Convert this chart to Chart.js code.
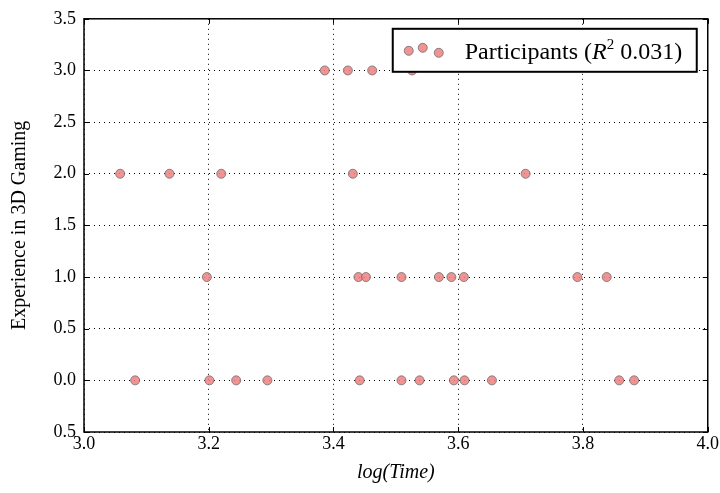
<!DOCTYPE html>
<html>
<head>
<meta charset="utf-8">
<script src="https://cdn.jsdelivr.net/npm/chart.js@4"></script>
<style>
  html, body { margin: 0; padding: 0; background: #fff; }
  #wrap { position: relative; width: 720px; height: 493px; }
</style>
</head>
<body>
<div id="wrap"><canvas id="scatterChart" width="720" height="493"></canvas></div>
<script>
// values
const logTime = [
    3.386, 3.423, 3.462, 3.526,
    3.058, 3.137, 3.220, 3.431, 3.708,
    3.197, 3.440, 3.452, 3.509, 3.569, 3.589, 3.609, 3.791, 3.838,
    3.082, 3.201, 3.244, 3.294, 3.442, 3.509, 3.538, 3.593, 3.610, 3.654, 3.858, 3.882
];
const experience = [
    3, 3, 3, 3,
    2, 2, 2, 2, 2,
    1, 1, 1, 1, 1, 1, 1, 1, 1,
    0, 0, 0, 0, 0, 0, 0, 0, 0, 0, 0, 0
];
const xTicks = [3.0, 3.2, 3.4, 3.6, 3.8, 4.0];
const yTicks = [-0.5, 0.0, 0.5, 1.0, 1.5, 2.0, 2.5, 3.0, 3.5];
// the reference prints the bottom tick without its minus sign
const yTickLabels = ['0.5', '0.0', '0.5', '1.0', '1.5', '2.0', '2.5', '3.0', '3.5'];
const seriesLabel = 'Participants';
const r2Value = '0.031';

const serif = '"Liberation Serif", "DejaVu Serif", serif';
const fillCol = 'rgba(240, 128, 128, 0.85)';
const edgeCol = 'rgba(110, 110, 110, 0.8)';

const points = logTime.map((x, i) => ({ x: x, y: experience[i] }));

// frame, inward ticks and the legend box
const framePlugin = {
    id: 'frame',
    afterDatasetsDraw(chart) {
        const { ctx, chartArea: a, scales } = chart;
        ctx.save();
        ctx.strokeStyle = '#000';
        ctx.lineWidth = 1;
        ctx.setLineDash([]);
        ctx.beginPath();
        xTicks.forEach(v => {
            const px = Math.round(scales.x.getPixelForValue(v)) + 0.5;
            ctx.moveTo(px, a.bottom); ctx.lineTo(px, a.bottom - 5);
            ctx.moveTo(px, a.top); ctx.lineTo(px, a.top + 5);
        });
        yTicks.forEach(v => {
            const py = Math.round(scales.y.getPixelForValue(v)) + 0.5;
            ctx.moveTo(a.left, py); ctx.lineTo(a.left + 5, py);
            ctx.moveTo(a.right, py); ctx.lineTo(a.right - 5, py);
        });
        ctx.stroke();
        ctx.lineWidth = 1.5;
        ctx.strokeRect(a.left, a.top, a.right - a.left, a.bottom - a.top);

        // legend
        const bw = 304, bh = 43;
        const bx = a.right - 11 - bw, by = a.top + 10;
        ctx.fillStyle = '#fff';
        ctx.fillRect(bx, by, bw, bh);
        ctx.lineWidth = 2;
        ctx.strokeRect(bx, by, bw, bh);
        const marks = [[16, 22], [30, 19], [46, 24]];
        marks.forEach(([dx, dy]) => {
            ctx.beginPath();
            ctx.arc(bx + dx, by + dy, 4.5, 0, Math.PI * 2);
            ctx.fillStyle = fillCol;
            ctx.fill();
            ctx.lineWidth = 1;
            ctx.strokeStyle = edgeCol;
            ctx.stroke();
        });
        ctx.fillStyle = '#000';
        ctx.textBaseline = 'alphabetic';
        let tx = bx + 72;
        const ty = by + 30;
        const parts = [
            [seriesLabel + ' (', '24px ' + serif, 0],
            ['R', 'italic 24px ' + serif, 0],
            ['2', '15px ' + serif, -10],
            [' ' + r2Value + ')', '24px ' + serif, 0]
        ];
        parts.forEach(([t, f, dy]) => {
            ctx.font = f;
            ctx.fillText(t, tx, ty + dy);
            tx += ctx.measureText(t).width;
        });
        ctx.restore();
    }
};

new Chart(document.getElementById('scatterChart'), {
    type: 'scatter',
    data: {
        datasets: [{
            label: seriesLabel,
            data: points,
            backgroundColor: fillCol,
            borderColor: edgeCol,
            borderWidth: 1,
            pointRadius: 4.5,
            pointHoverRadius: 4.5
        }]
    },
    options: {
        responsive: false,
        animation: false,
        events: [],
        layout: { padding: { top: 16, right: 12, left: 0, bottom: 0 } },
        plugins: { legend: { display: false }, tooltip: { enabled: false } },
        scales: {
            x: {
                type: 'linear',
                min: 3, max: 4,
                afterBuildTicks: (s) => { s.ticks = xTicks.map(v => ({ value: v })); },
                afterFit: (s) => { s.height = 61; },
                ticks: {
                    color: '#000',
                    font: { family: serif, size: 18 },
                    padding: 1,
                    maxRotation: 0,
                    callback: (v) => v.toFixed(1)
                },
                grid: { color: '#000', lineWidth: 1, drawTicks: false, tickLength: 0 },
                border: { display: false, dash: [1, 4] },
                title: {
                    display: true,
                    text: 'log(Time)',
                    color: '#000',
                    font: { family: serif, size: 20, style: 'italic' },
                    padding: { top: 0, bottom: 8 }
                }
            },
            y: {
                type: 'linear',
                min: -0.5, max: 3.5,
                afterBuildTicks: (s) => { s.ticks = yTicks.map(v => ({ value: v })); },
                afterFit: (s) => { s.width = 84; },
                ticks: {
                    color: '#000',
                    font: { family: serif, size: 18 },
                    padding: 8,
                    callback: (v) => yTickLabels[yTicks.indexOf(v)]
                },
                grid: { color: '#000', lineWidth: 1, drawTicks: false, tickLength: 0 },
                border: { display: false, dash: [1, 4] },
                title: {
                    display: true,
                    text: 'Experience in 3D Gaming',
                    color: '#000',
                    font: { family: serif, size: 20 },
                    padding: { top: 8, bottom: 4 }
                }
            }
        }
    },
    plugins: [framePlugin]
});
</script>
</body>
</html>
